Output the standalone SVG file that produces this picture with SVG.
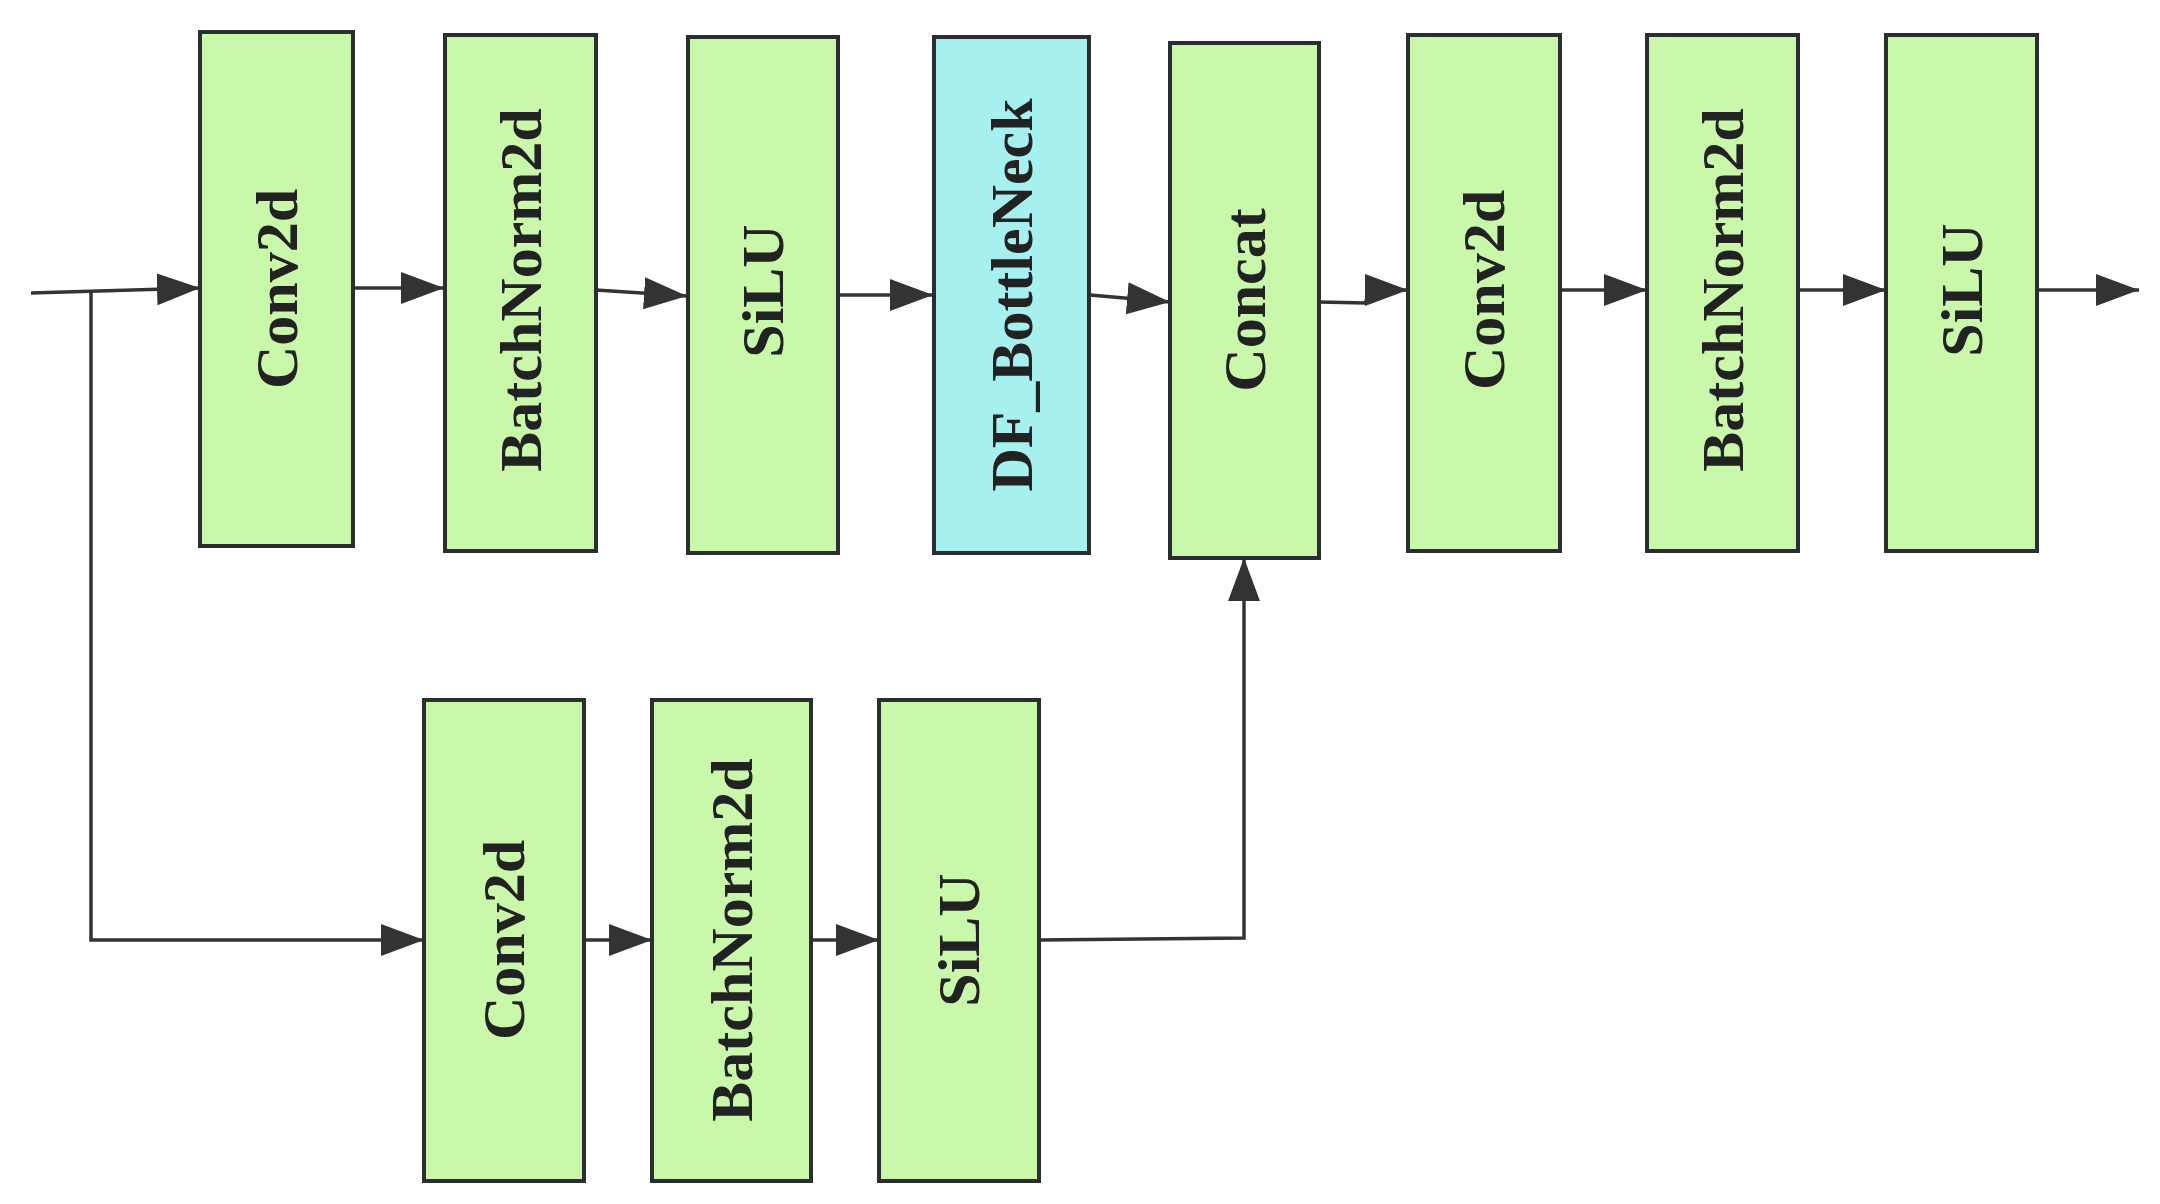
<svg xmlns="http://www.w3.org/2000/svg" width="2160" height="1204" viewBox="0 0 2160 1204">
<style>
.box{fill:#c9f8ab;stroke:#2a2e32;stroke-width:4}
.cyan{fill:#a7f0f0}
.lbl{font-family:"Liberation Serif","Times New Roman",serif;font-weight:bold;font-size:60px;fill:#222;text-anchor:middle}
.ln{fill:none;stroke:#333;stroke-width:3.5;marker-end:url(#ah)}
</style>
<defs>
<marker id="ah" markerUnits="userSpaceOnUse" markerWidth="46" markerHeight="34" refX="43" refY="16" orient="auto">
<path d="M0,0 L43,16 L0,32 z" fill="#333"/>
</marker>
</defs>
<rect width="2160" height="1204" fill="#fff"/>
<g id="connectors">
<path class="ln" d="M31,293 L200,288"/>
<path class="ln" d="M91,292 V940 H424"/>
<path class="ln" d="M353,288 H444"/>
<path class="ln" d="M596,290 L687,296"/>
<path class="ln" d="M838,295 H933"/>
<path class="ln" d="M1090,295 L1170,302"/>
<path class="ln" d="M1319,302 L1365,303 L1371,290 L1408,290"/>
<path class="ln" d="M1560,290 H1647"/>
<path class="ln" d="M1798,290 H1886"/>
<path class="ln" d="M2037,290 H2139"/>
<path class="ln" d="M584,940 H652"/>
<path class="ln" d="M811,940 H879"/>
<path class="ln" d="M1039,940 L1244,938 V558"/>
</g>
<g id="n1"><rect class="box" x="200" y="32" width="153" height="514"/><text class="lbl" transform="translate(276.5,289) rotate(-90)" dy="0.34em">Conv2d</text></g>
<g id="n2"><rect class="box" x="445" y="35" width="151" height="516"/><text class="lbl" transform="translate(520.5,290) rotate(-90)" dy="0.34em">BatchNorm2d</text></g>
<g id="n3"><rect class="box" x="688" y="37" width="150" height="516"/><text class="lbl" transform="translate(763,291) rotate(-90)" dy="0.34em">SiLU</text></g>
<g id="n4"><rect class="box cyan" x="934" y="37" width="155" height="516"/><text class="lbl" transform="translate(1011.5,295) rotate(-90)" dy="0.34em">DF_BottleNeck</text></g>
<g id="n5"><rect class="box" x="1170" y="43" width="149" height="515"/><text class="lbl" transform="translate(1244.5,300) rotate(-90)" dy="0.34em">Concat</text></g>
<g id="n6"><rect class="box" x="1408" y="35" width="152" height="516"/><text class="lbl" transform="translate(1484,290) rotate(-90)" dy="0.34em">Conv2d</text></g>
<g id="n7"><rect class="box" x="1647" y="35" width="151" height="516"/><text class="lbl" transform="translate(1722.5,290) rotate(-90)" dy="0.34em">BatchNorm2d</text></g>
<g id="n8"><rect class="box" x="1886" y="35" width="151" height="516"/><text class="lbl" transform="translate(1961.5,290) rotate(-90)" dy="0.34em">SiLU</text></g>
<g id="n9"><rect class="box" x="424" y="700" width="160" height="481"/><text class="lbl" transform="translate(504,940) rotate(-90)" dy="0.34em">Conv2d</text></g>
<g id="n10"><rect class="box" x="652" y="700" width="159" height="481"/><text class="lbl" transform="translate(731.5,940) rotate(-90)" dy="0.34em">BatchNorm2d</text></g>
<g id="n11"><rect class="box" x="879" y="700" width="160" height="481"/><text class="lbl" transform="translate(959,940) rotate(-90)" dy="0.34em">SiLU</text></g>
</svg>
